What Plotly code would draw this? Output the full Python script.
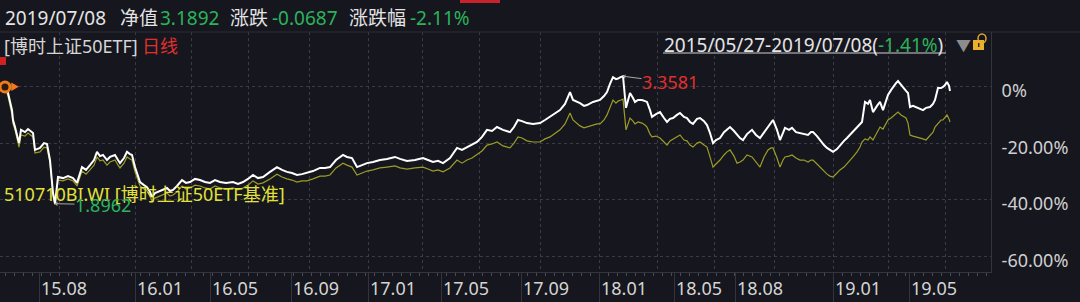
import plotly.graph_objects as go

# ---------------- data ----------------
# trading-day index since 2015/05/27 (approx.), and % change vs. start
trading_day = [
    0, 3, 7, 8, 10, 12, 14, 16, 20, 23,
    26, 28, 30, 35, 39, 42, 45, 48, 50, 53,
    58, 63, 68, 72, 77, 81, 85, 89, 92, 95,
    98, 102, 105, 110, 113, 115, 119, 122, 125, 127,
    130, 135, 139, 142, 145, 147, 150, 153, 157, 162,
    165, 168, 172, 177, 181, 185, 190, 195, 200, 205,
    210, 215, 221, 228, 233, 238, 243, 248, 253, 258,
    265, 272, 277, 282, 287, 292, 297, 302, 308, 315,
    320, 325, 331, 338, 342, 347, 352, 357, 362, 368,
    375, 382, 390, 395, 402, 410, 418, 423, 428, 433,
    438, 445, 452, 457, 462, 467, 472, 477, 482, 487,
    492, 498, 505, 509, 513, 517, 522, 528, 535, 540,
    545, 550, 555, 560, 565, 568, 572, 575, 579, 582,
    588, 592, 595, 599, 602, 605, 608, 611, 613, 616,
    618, 621, 623, 625, 628, 630, 633, 637, 640, 642,
    645, 647, 651, 655, 659, 662, 665, 668, 672, 675,
    679, 682, 685, 688, 692, 695, 699, 702, 705, 708,
    711, 715, 719, 722, 725, 729, 732, 735, 738, 742,
    747, 751, 755, 759, 763, 766, 768, 772, 775, 778,
    780, 784, 787, 791, 795, 799, 803, 806, 808, 812,
    815, 819, 822, 825, 828, 832, 835, 839, 842, 845,
    848, 852, 855, 857, 860, 863, 865, 868, 872, 875,
    878, 881, 883, 886, 888, 891, 893, 896, 898, 901,
    903, 905, 908, 912, 915, 918, 921, 925, 928, 930,
    933, 936, 938, 940, 942, 944, 945,
]

etf_pct = [
    0.0, -2.1, -8.2, -11.7, -14.2, -17.7, -19.9, -15.2, -16.0, -14.9,
    -15.6, -16.3, -22.3, -21.6, -19.9, -20.2, -25.9, -37.6, -41.38, -31.9,
    -32.3, -31.6, -32.3, -34.0, -28.4, -29.4, -27.7, -25.9, -23.0, -24.5,
    -24.1, -25.9, -24.8, -24.1, -25.9, -27.0, -25.2, -23.0, -23.8, -24.1,
    -28.4, -33.7, -34.8, -35.5, -37.2, -39.0, -37.6, -37.2, -36.5, -35.8,
    -36.9, -36.5, -35.1, -33.0, -34.0, -33.7, -32.6, -33.0, -33.7, -34.0,
    -33.0, -33.7, -34.0, -33.7, -34.4, -33.7, -32.6, -31.2, -32.3, -31.9,
    -30.1, -28.4, -29.4, -30.1, -30.5, -31.2, -30.9, -30.5, -29.8, -28.7,
    -28.7, -28.4, -25.9, -24.1, -24.8, -25.2, -28.4, -27.7, -27.0, -26.6,
    -25.9, -25.5, -24.8, -25.5, -26.2, -25.9, -25.2, -25.9, -26.6, -26.2,
    -27.0, -25.2, -21.6, -22.3, -21.3, -20.6, -19.5, -17.7, -15.2, -15.6,
    -14.2, -15.2, -16.0, -14.2, -11.7, -12.1, -12.8, -13.1, -12.8, -11.7,
    -10.6, -9.2, -8.2, -6.0, -1.8, -4.6, -5.3, -5.7, -6.7, -6.4,
    -5.3, -5.0, -4.6, -3.2, -1.8, 1.1, 3.5, 2.8, 3.0, 3.6,
    3.81, -7.4, -4.6, -2.1, -3.9, -5.3, -4.6, -4.6, -5.0, -5.3,
    -8.2, -10.6, -9.6, -8.9, -11.0, -12.4, -11.3, -11.0, -9.9, -9.2,
    -10.6, -11.0, -12.4, -13.1, -11.3, -11.0, -12.1, -13.5, -16.3, -19.9,
    -18.8, -18.1, -16.0, -15.2, -14.2, -15.6, -17.0, -18.1, -18.8, -16.7,
    -15.2, -17.0, -18.1, -16.0, -14.2, -12.4, -11.7, -15.2, -18.8, -16.3,
    -14.5, -15.2, -14.5, -16.0, -16.3, -16.7, -17.0, -16.0, -16.0, -17.4,
    -18.8, -20.6, -21.6, -22.3, -23.0, -22.0, -20.6, -19.1, -18.1, -17.0,
    -16.0, -14.5, -13.1, -12.4, -5.3, -6.0, -4.6, -8.9, -6.7, -5.3,
    -8.2, -4.6, -2.8, -1.1, 0.0, 1.4, 2.1, 0.7, -0.4, -1.4,
    -2.1, -7.1, -6.7, -7.4, -7.8, -8.2, -7.4, -7.1, -6.0, -4.6,
    -0.4, -0.4, 0.0, 0.7, 1.8, 0.4, -1.41,
]

bench_pct = [
    0.0, -3.2, -9.9, -13.0, -15.2, -18.8, -21.3, -17.0, -17.4, -16.3,
    -17.0, -17.7, -23.4, -23.0, -21.3, -21.6, -27.0, -38.3, -41.8, -33.0,
    -33.3, -32.6, -33.3, -35.1, -29.8, -30.9, -29.4, -27.7, -24.8, -26.2,
    -25.9, -27.7, -26.6, -25.9, -27.7, -28.7, -27.0, -24.8, -25.5, -25.9,
    -30.1, -35.1, -36.2, -36.9, -38.7, -40.4, -39.4, -39.0, -38.3, -37.6,
    -38.7, -38.3, -37.2, -35.1, -36.2, -35.8, -34.8, -35.1, -35.8, -36.2,
    -35.1, -35.8, -36.2, -35.8, -36.5, -35.8, -34.8, -33.3, -34.4, -34.0,
    -32.6, -30.9, -31.9, -32.6, -33.0, -33.7, -33.3, -33.3, -32.6, -31.6,
    -31.6, -31.2, -28.7, -27.0, -27.7, -28.4, -31.2, -30.5, -29.8, -29.4,
    -28.7, -28.4, -28.0, -28.7, -29.1, -28.7, -28.4, -29.1, -29.8, -29.4,
    -30.1, -28.7, -25.9, -27.0, -25.9, -25.2, -24.1, -22.7, -20.6, -20.2,
    -19.5, -20.9, -21.6, -19.9, -17.7, -18.1, -19.1, -19.5, -19.5, -18.4,
    -17.7, -16.3, -15.2, -13.1, -9.2, -11.7, -12.8, -13.8, -14.5, -14.2,
    -13.5, -13.1, -13.1, -11.7, -9.9, -7.4, -4.6, -5.7, -5.0, -4.6,
    -4.3, -15.2, -13.1, -11.0, -12.1, -13.1, -12.4, -12.8, -13.5, -14.2,
    -16.7, -17.7, -17.4, -18.1, -19.5, -20.6, -19.1, -18.4, -17.7, -17.0,
    -18.8, -19.1, -20.6, -21.3, -19.9, -19.5, -20.6, -21.3, -24.8, -28.4,
    -27.3, -25.9, -24.1, -23.0, -22.3, -24.5, -27.0, -26.6, -25.9, -24.1,
    -24.8, -26.6, -28.4, -24.8, -22.3, -21.6, -21.6, -25.2, -28.4, -25.9,
    -24.8, -24.5, -24.1, -25.2, -25.9, -25.9, -26.6, -25.9, -25.9, -27.3,
    -28.4, -29.8, -30.9, -31.6, -31.9, -30.5, -29.4, -28.4, -27.3, -25.9,
    -24.8, -23.0, -21.3, -19.5, -18.4, -18.8, -17.7, -18.8, -16.0, -14.2,
    -14.9, -12.8, -11.7, -11.0, -10.3, -9.6, -8.9, -9.9, -10.3, -11.0,
    -12.8, -17.0, -17.4, -17.7, -18.1, -18.4, -18.8, -17.4, -16.0, -14.2,
    -13.1, -11.7, -11.7, -10.6, -9.9, -11.3, -12.4,
]

tick_days = [34, 130, 205, 286, 363, 436, 516, 594, 669, 730, 828, 904]
tick_text = ["15.08", "16.01", "16.05", "16.09", "17.01", "17.05",
             "17.09", "18.01", "18.05", "18.08", "19.01", "19.05"]
grid_days = [54, 130, 186, 243, 304, 363, 417, 474, 535, 594, 652, 709,
             769, 828, 883, 940]
y_ticks = [0, -20, -40, -60]
y_text = ["0%", "-20.00%", "-40.00%", "-60.00%"]

peak_nav = "3.3581"
trough_nav = "1.8962"
header_date = "2019/07/08"
header_nav = "3.1892"
header_chg = "-0.0687"
header_pct = "-2.11%"
range_text = "2015/05/27-2019/07/08"
range_pct = "-1.41%"
fund_name = "[博时上证50ETF]"
bench_name = "510710BI.WI [博时上证50ETF基准]"

# ---------------- styling / layout ----------------
W, H = 1080, 302
ML, MR, MT, MB = 0, 89, 32, 30
PW = W - ML - MR          # plot width in px
PH = H - MT - MB          # plot height in px
BG = "#16161e"
GRID = "#3b3b47"
AXIS = "#34343e"
WHITE_TXT = "#e4e4e4"
GREEN = "#2bb35c"
RED = "#e0302e"
YELLOW_TXT = "#e2e23a"
FONT = "Noto Sans, Noto Sans CJK SC"


def px_x(px):
    return (px - ML) / PW


def px_y(py):
    return (H - MB - py) / PH


def txt(text, px, py, color, size=18, xanchor="left"):
    return dict(text=text, x=px_x(px), y=px_y(py), xref="paper", yref="paper",
                xanchor=xanchor, yanchor="middle", showarrow=False,
                borderpad=0, font=dict(color=color, size=size, family=FONT))


fig = go.Figure()

fig.add_trace(go.Scatter(x=trading_day, y=bench_pct, mode="lines",
                         line=dict(color="#9c9c28", width=1.2),
                         hoverinfo="skip", showlegend=False))
fig.add_trace(go.Scatter(x=trading_day, y=etf_pct, mode="lines",
                         line=dict(color="#ffffff", width=2),
                         hoverinfo="skip", showlegend=False))
# start marker
fig.add_trace(go.Scatter(x=[trading_day[0]], y=[etf_pct[0]], mode="markers",
                         marker=dict(symbol="circle", size=10, color="#2a1a10",
                                     line=dict(color="#f07a1c", width=3)),
                         hoverinfo="skip", showlegend=False))
# invisible trace that carries the vertical grid axis
fig.add_trace(go.Scatter(x=grid_days, y=[None] * len(grid_days), xaxis="x2",
                         mode="markers", hoverinfo="skip", showlegend=False))

x_range = [-5, PW - 5]
y_range = [-65.6, 19.5]

fig.update_layout(
    width=W, height=H,
    margin=dict(l=ML, r=MR, t=MT, b=MB, pad=0),
    paper_bgcolor=BG, plot_bgcolor=BG,
    font=dict(family=FONT, color=WHITE_TXT),
    xaxis=dict(range=x_range, tickvals=tick_days, ticktext=tick_text,
               showgrid=False, zeroline=False, showline=True, linecolor=AXIS,
               linewidth=1, ticks="outside", ticklen=30, tickcolor=AXIS,
               tickwidth=1, ticklabelshift=25, ticklabelstandoff=-30,
               tickfont=dict(size=18, color="#d4d4d4", family=FONT),
               minor=dict(ticks="outside", ticklen=3, dtick=9, tick0=0,
                          tickcolor="#4a4a55", showgrid=False),
               fixedrange=True),
    xaxis2=dict(range=x_range, overlaying="x", anchor="y", side="bottom",
                tickvals=grid_days, showticklabels=False, ticks="",
                showgrid=True, gridcolor=GRID, griddash="dot", gridwidth=1,
                zeroline=False, showline=False),
    yaxis=dict(range=y_range, side="right", tickvals=y_ticks, ticktext=y_text,
               showgrid=True, gridcolor=GRID, griddash="dot", gridwidth=1,
               zeroline=False, showline=True, linecolor=AXIS, ticks="",
               ticklabelstandoff=6, ticklabelshift=4,
               tickfont=dict(size=18, color="#cfcfcf", family=FONT),
               fixedrange=True),
)

i_max = etf_pct.index(max(etf_pct))
i_min = etf_pct.index(min(etf_pct))

annotations = [
    txt(header_date, 4, 18, WHITE_TXT, 19),
    txt("净值", 119, 18, WHITE_TXT, 19),
    txt(header_nav, 159, 18, GREEN, 19),
    txt("涨跌", 229, 18, WHITE_TXT, 19),
    txt(header_chg, 271, 18, GREEN, 19),
    txt("涨跌幅", 348, 18, WHITE_TXT, 19),
    txt(header_pct, 409, 18, GREEN, 19),
    txt(fund_name, 3, 46, "#d6d6d6", 18),
    txt("日线", 141, 46, RED, 18),
    txt(range_text + "(<span style='color:%s'>%s</span>)" % (GREEN, range_pct),
        663, 45, WHITE_TXT, 19),
    txt("▼", 955, 45, "#8c8c8c", 15),
    txt(bench_name, 3, 194, YELLOW_TXT, 18),
    dict(x=trading_day[i_max], y=etf_pct[i_max], xref="x", yref="y",
         text=peak_nav, showarrow=True, ax=47, ay=6, arrowhead=1,
         arrowsize=0.8, arrowwidth=1, arrowcolor="#a8a8a8", borderpad=0,
         font=dict(color=RED, size=18, family=FONT)),
    dict(x=trading_day[i_min], y=etf_pct[i_min], xref="x", yref="y",
         text=trough_nav, showarrow=True, ax=48, ay=1, arrowhead=1,
         arrowsize=0.8, arrowwidth=1, arrowcolor="#a8a8a8", borderpad=0,
         font=dict(color=GREEN, size=18, family=FONT)),
    dict(x=trading_day[0], y=etf_pct[0], xref="x", yref="y", text="▶",
         showarrow=False, xshift=9, font=dict(color="#f07a1c", size=9)),
]
fig.update_layout(annotations=annotations)

shapes = [
    # panel top border
    dict(type="line", xref="paper", yref="paper", x0=px_x(0), x1=px_x(W),
         y0=px_y(32), y1=px_y(32), line=dict(color="#2c2c36", width=1)),
    # underline of date range
    dict(type="line", xref="paper", yref="paper", x0=px_x(663), x1=px_x(946),
         y0=px_y(53), y1=px_y(53), line=dict(color="#d0d0d0", width=1)),
    # active tab marker at very top
    dict(type="rect", xref="paper", yref="paper", x0=px_x(460), x1=px_x(500),
         y0=px_y(0), y1=px_y(3), fillcolor="#c8232c", line=dict(width=0)),
    # red start tag
    dict(type="rect", xref="paper", yref="paper", x0=px_x(0), x1=px_x(6),
         y0=px_y(57), y1=px_y(65), fillcolor="#d02222", line=dict(width=0)),
    # lock icon
    dict(type="circle", xref="paper", yref="paper", x0=px_x(978), x1=px_x(986),
         y0=px_y(34), y1=px_y(43), line=dict(color="#e0a82a", width=1.5)),
    dict(type="rect", xref="paper", yref="paper", x0=px_x(973), x1=px_x(984),
         y0=px_y(40), y1=px_y(50), fillcolor="#e8b02c", line=dict(width=0)),
    dict(type="rect", xref="paper", yref="paper", x0=px_x(978), x1=px_x(979.5),
         y0=px_y(43), y1=px_y(47), fillcolor="#3a2a10", line=dict(width=0)),
]
fig.update_layout(shapes=shapes)

fig.write_html("out.html")
